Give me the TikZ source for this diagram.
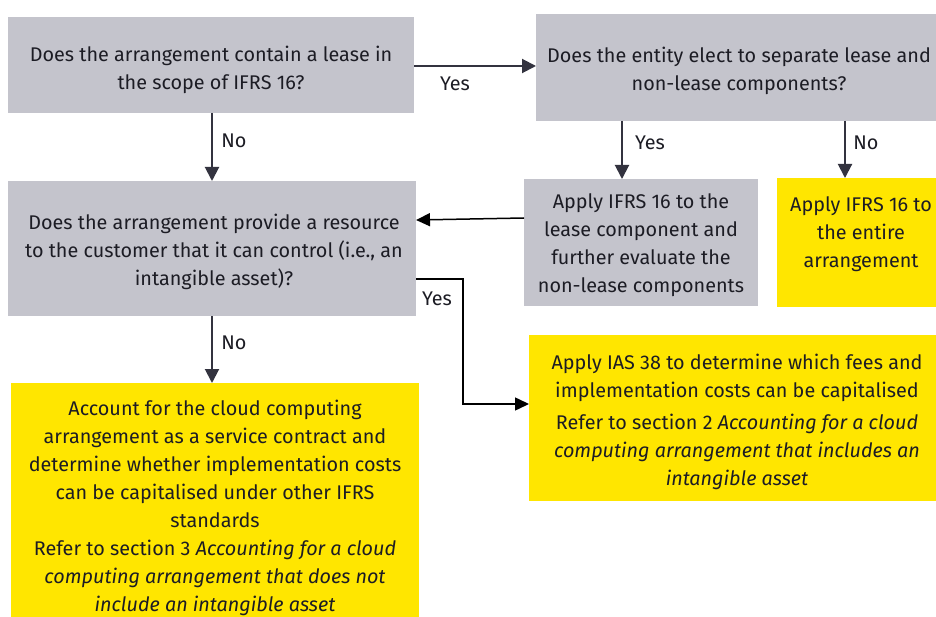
\documentclass[tikz,border=0pt]{standalone}
\usepackage{fontspec}
\setmainfont{Fira Sans}
\usetikzlibrary{arrows.meta}
\definecolor{boxgray}{HTML}{C4C4CC}
\definecolor{eyyellow}{HTML}{FFE600}
\definecolor{arrowc}{HTML}{33333F}
\definecolor{txt}{HTML}{1C1C24}
\begin{document}
\begin{tikzpicture}[x=1pt,y=-1pt,
  box/.style={draw=none,inner sep=0pt,outer sep=0pt},
  graybox/.style={box,fill=boxgray},
  yellowbox/.style={box,fill=eyyellow},
  txtnode/.style={inner sep=0pt,align=center,text=txt,font=\fontsize{19.8}{28}\selectfont},
  lbl/.style={inner sep=0pt,text=txt,font=\fontsize{19.8}{22}\selectfont},
  conn/.style={draw=arrowc,line width=2pt,-{Triangle[length=14pt,width=14pt]}},
  connthin/.style={draw=black,line width=1.5pt,-{Triangle[length=14pt,width=13pt]}}]
\useasboundingbox (0,0) rectangle (936,617);
\fill[white] (0,0) rectangle (936,617);
% boxes
\path[graybox] (8,17) rectangle (414,113);
\node[box,minimum width=406pt,minimum height=96pt] (b1) at (211,65) {};
\path[graybox] (536,14) rectangle (936,121);
\node[box,minimum width=400pt,minimum height=107pt] (b2) at (736,67.5) {};
\path[graybox] (8,181) rectangle (416,316);
\node[box,minimum width=408pt,minimum height=135pt] (b3) at (212,248.5) {};
\path[graybox] (524,179) rectangle (758,306);
\node[box,minimum width=234pt,minimum height=127pt] (b4) at (641,242.5) {};
\path[yellowbox] (777,178) rectangle (936,307);
\node[box,minimum width=159pt,minimum height=129pt] (b5) at (856.5,242.5) {};
\path[yellowbox] (529,335) rectangle (936,501);
\node[box,minimum width=407pt,minimum height=166pt] (b6) at (732.5,418) {};
\path[yellowbox] (11,383) rectangle (419,617);
\node[box,minimum width=408pt,minimum height=234pt] (b7) at (215,500) {};
% texts
\node[txtnode] (t1) at (211,70) {Does the arrangement contain a lease in\\the scope of IFRS 16?};
\node[txtnode] (t2) at (739,71) {Does the entity elect to separate lease and\\non-lease components?};
\node[txtnode] (t3) at (214,252) {Does the arrangement provide a resource\\to the customer that it can control (i.e., an\\intangible asset)?};
\node[txtnode] (t4) at (641,245) {Apply IFRS 16 to the\\lease component and\\further evaluate the\\non-lease components};
\node[txtnode] (t5) at (861,234) {Apply IFRS 16 to\\the entire\\arrangement};
\node[txtnode] (t6a) at (737,378) {Apply IAS 38 to determine which fees and\\implementation costs can be capitalised};
\node[txtnode] (t6b) at (737,452) {Refer to section 2 \textit{Accounting for a cloud}\\\textit{computing arrangement that includes an}\\\textit{intangible asset}};
\node[txtnode] (t7a) at (215,464) {Account for the cloud computing\\arrangement as a service contract and\\determine whether implementation costs\\can be capitalised under other IFRS\\standards};
\node[txtnode] (t7b) at (215,578) {Refer to section 3 \textit{Accounting for a cloud}\\\textit{computing arrangement that does not}\\\textit{include an intangible asset}};
% connectors
\coordinate (c12a) at (b1.east |- 0,66);
\coordinate (c12b) at (b2.west |- 0,66);
\draw[conn] (c12a) -- (c12b);
\node[lbl] (y1) at (455,84) {Yes};
\draw[conn] (b1.south) ++(1,0) coordinate (c13a) -- (c13a |- b3.north);
\node[lbl] (n1) at (234,141) {No};
\coordinate (c24a) at (622,0);
\draw[conn] (c24a |- b2.south) -- (c24a |- b4.north);
\node[lbl] (y2) at (650,143) {Yes};
\coordinate (c25a) at (845,0);
\draw[conn] (c25a |- b2.south) -- (c25a |- b5.north);
\node[lbl] (n2) at (866,143) {No};
\coordinate (c43a) at (b4.west |- 0,218);
\coordinate (c43b) at (b3.east |- 0,220);
\draw[connthin] (c43a) -- (c43b);
\coordinate (c36a) at (b3.east |- 0,279);
\coordinate (c36b) at (b6.west |- 0,404);
\draw[connthin] (c36a) -- (463,279) -- (463,404) -- (c36b);
\node[lbl] (y3) at (437,299) {Yes};
\coordinate (c37a) at (212,0);
\draw[conn] (c37a |- b3.south) -- (c37a |- b7.north);
\node[lbl] (n3) at (234,343) {No};
\end{tikzpicture}
\end{document}
